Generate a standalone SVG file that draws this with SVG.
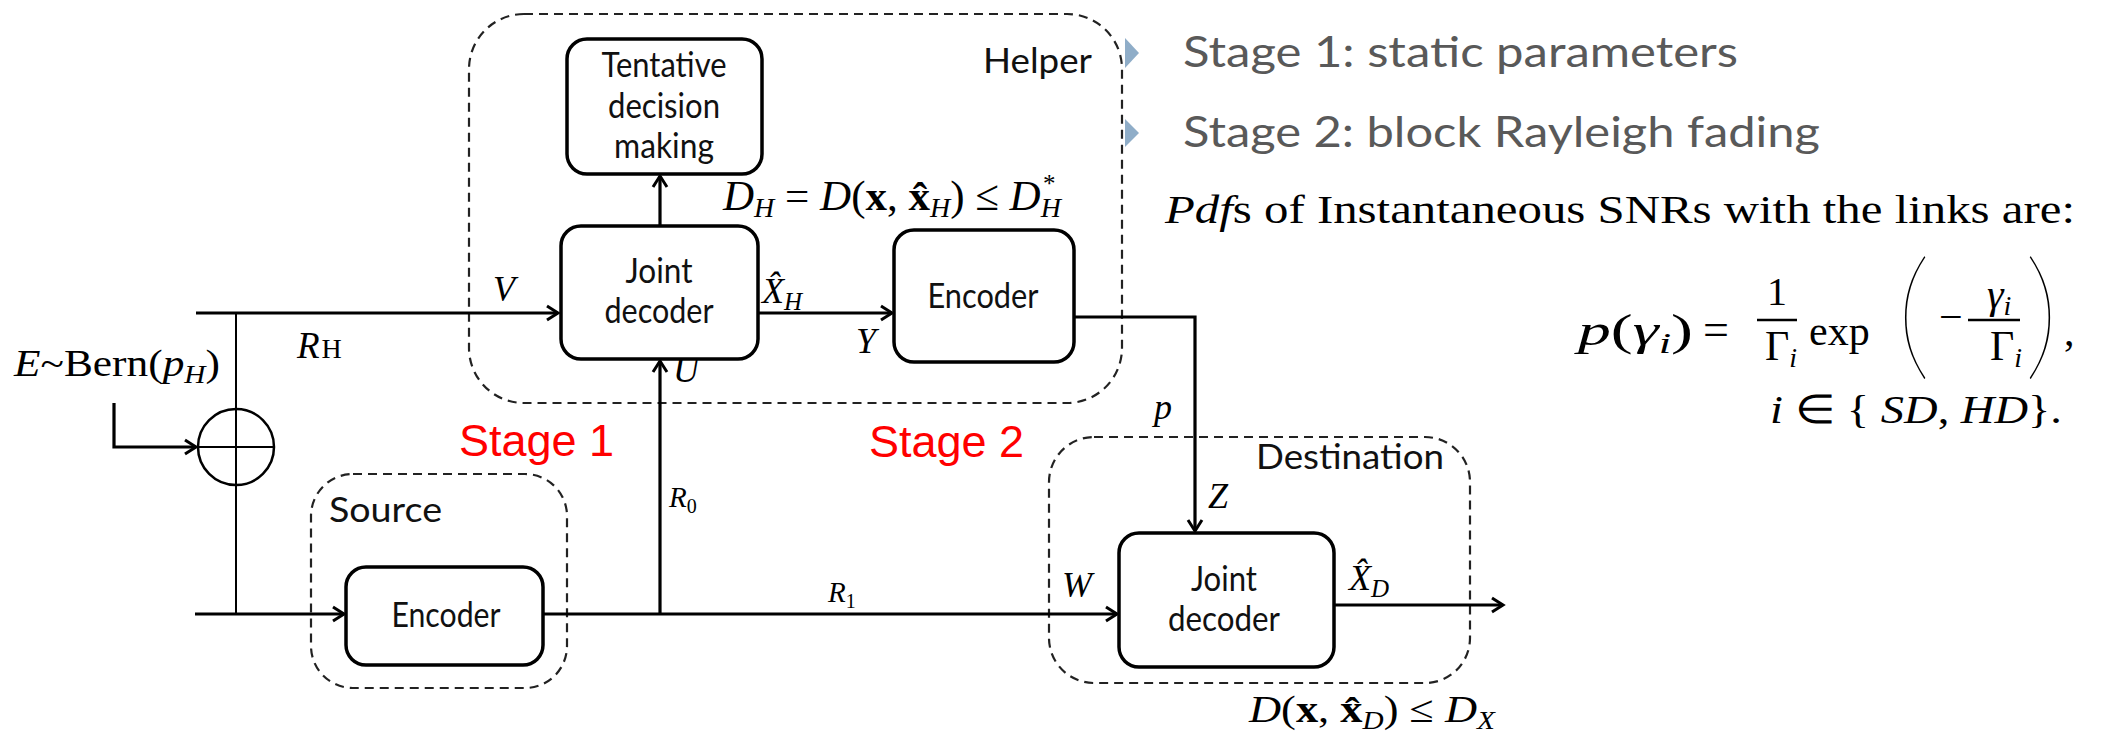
<svg xmlns="http://www.w3.org/2000/svg" width="2101" height="732" viewBox="0 0 2101 732">
<defs>
<marker id="arr" markerUnits="userSpaceOnUse" markerWidth="20" markerHeight="20" refX="14" refY="9" orient="auto">
<path d="M3,2 L14,9 L3,16" fill="none" stroke="#000" stroke-width="3"/>
</marker>
<style>
.box{fill:#fff;stroke:#000;stroke-width:3.5}
.grp{fill:none;stroke:#222;stroke-width:2.2;stroke-dasharray:9 6}
.ln{fill:none;stroke:#000;stroke-width:3.2}
.thin{fill:none;stroke:#000;stroke-width:2}
.lbl{font-family:Lato,"Open Sans",sans-serif;fill:#111;text-anchor:middle}
.glbl{font-family:Lato,"Open Sans",sans-serif;fill:#111}
.m{font-family:"Liberation Serif","Times New Roman",serif;font-style:italic;fill:#000}
.u{font-style:normal}
.b{font-style:normal;font-weight:bold}
.red{font-family:"Liberation Sans",Arial,sans-serif;font-size:45px;fill:#ff0000}
.gray{font-family:Lato,"Open Sans",sans-serif;fill:#595959}
.serif{font-family:"Liberation Serif","Times New Roman",serif;fill:#000}
.par{font-family:Lato,"DejaVu Sans",sans-serif;font-weight:100;fill:#000}
</style>
</defs>
<rect width="2101" height="732" fill="#fff"/>

<!-- group boxes -->
<g id="helper">
<rect class="grp" x="469" y="14" width="653" height="389" rx="55"/>
<text class="glbl" x="983" y="73" font-size="34" textLength="109" lengthAdjust="spacingAndGlyphs">Helper</text>
</g>
<g id="source">
<rect class="grp" x="311" y="474" width="256" height="214" rx="42"/>
<text class="glbl" x="329" y="522" font-size="34" textLength="113" lengthAdjust="spacingAndGlyphs">Source</text>
</g>
<g id="destination">
<rect class="grp" x="1049" y="437" width="421" height="246" rx="45"/>
<text class="glbl" x="1256" y="469" font-size="34" textLength="188" lengthAdjust="spacingAndGlyphs">Destination</text>
</g>

<!-- connectors -->
<g id="connectors">
<path class="ln" d="M196,313 H558" marker-end="url(#arr)"/>
<path class="thin" d="M236,313 V614"/>
<path class="ln" d="M114,403 V447 H196" marker-end="url(#arr)"/>
<path class="ln" d="M195,614 H344" marker-end="url(#arr)"/>
<path class="ln" d="M543,614 H1117" marker-end="url(#arr)"/>
<path class="ln" d="M660,614 V361" marker-end="url(#arr)"/>
<path class="ln" d="M660,226 V176" marker-end="url(#arr)"/>
<path class="ln" d="M758,313 H892" marker-end="url(#arr)"/>
<path class="ln" d="M1074,317 H1195 V531" marker-end="url(#arr)"/>
<path class="ln" d="M1334,605 H1503" marker-end="url(#arr)"/>
</g>

<g id="xor">
<circle cx="236" cy="447" r="38" fill="none" stroke="#000" stroke-width="2.5"/>
<path class="thin" d="M198,447 H274"/>
</g>

<g id="tentative">
<rect class="box" x="567" y="39" width="195" height="135" rx="20"/>
<text class="lbl" x="664" y="77" font-size="34" textLength="125" lengthAdjust="spacingAndGlyphs">Tentative</text>
<text class="lbl" x="664" y="118" font-size="34" textLength="112" lengthAdjust="spacingAndGlyphs">decision</text>
<text class="lbl" x="664" y="158" font-size="34" textLength="100" lengthAdjust="spacingAndGlyphs">making</text>
</g>
<g id="helper-decoder">
<rect class="box" x="561" y="226" width="197" height="133" rx="20"/>
<text class="lbl" x="659" y="283" font-size="34" textLength="67" lengthAdjust="spacingAndGlyphs">Joint</text>
<text class="lbl" x="659" y="323" font-size="34" textLength="109" lengthAdjust="spacingAndGlyphs">decoder</text>
</g>
<g id="helper-encoder">
<rect class="box" x="894" y="230" width="180" height="132" rx="20"/>
<text class="lbl" x="983" y="308" font-size="34" textLength="111" lengthAdjust="spacingAndGlyphs">Encoder</text>
</g>
<g id="source-encoder">
<rect class="box" x="346" y="567" width="197" height="98" rx="20"/>
<text class="lbl" x="446" y="627" font-size="34" textLength="109" lengthAdjust="spacingAndGlyphs">Encoder</text>
</g>
<g id="dest-decoder">
<rect class="box" x="1119" y="533" width="215" height="134" rx="20"/>
<text class="lbl" x="1224" y="591" font-size="34" textLength="66" lengthAdjust="spacingAndGlyphs">Joint</text>
<text class="lbl" x="1224" y="631" font-size="34" textLength="112" lengthAdjust="spacingAndGlyphs">decoder</text>
</g>

<!-- labels -->
<g id="labels">
<text class="m" x="14" y="376" font-size="37" textLength="206" lengthAdjust="spacingAndGlyphs">E<tspan class="u">~Bern(</tspan>p<tspan font-size="25" dy="7">H</tspan><tspan class="u" dy="-7">)</tspan></text>
<text class="m" x="297" y="358" font-size="37">R<tspan class="u" font-size="28" dx="2">H</tspan></text>
<text class="m" x="493" y="301" font-size="36">V</text>
<text class="m" x="673" y="382" font-size="36">U</text>
<text class="m" x="762" y="303" font-size="36">X̂<tspan font-size="25" dy="7">H</tspan></text>
<text class="m" x="856" y="353" font-size="36">Y</text>
<text class="m" x="723" y="210" font-size="43">D<tspan font-size="28" dy="7">H</tspan><tspan class="u" dy="-7"> = </tspan>D<tspan class="u">(</tspan><tspan class="b">x</tspan><tspan class="u">, </tspan><tspan class="b">x̂</tspan><tspan font-size="28" dy="7">H</tspan><tspan class="u" dy="-7">) ≤ </tspan>D<tspan font-size="28" dy="7">H</tspan><tspan class="u" font-size="25" dx="-18" dy="-25">*</tspan></text>
<text class="m" x="669" y="507" font-size="29">R<tspan class="u" font-size="20" dy="6">0</tspan></text>
<text class="m" x="828" y="602" font-size="29">R<tspan class="u" font-size="20" dy="6">1</tspan></text>
<text class="m" x="1154" y="419" font-size="36">p</text>
<text class="m" x="1208" y="508" font-size="36">Z</text>
<text class="m" x="1062" y="597" font-size="36">W</text>
<text class="m" x="1349" y="590" font-size="36">X̂<tspan font-size="25" dy="7">D</tspan></text>
<text class="m" x="1249" y="722" font-size="38" textLength="246" lengthAdjust="spacingAndGlyphs">D<tspan class="u">(</tspan><tspan class="b">x</tspan><tspan class="u">, </tspan><tspan class="b">x̂</tspan><tspan font-size="25" dy="7">D</tspan><tspan class="u" dy="-7">) ≤ </tspan>D<tspan font-size="25" dy="7">X</tspan></text>
<text class="red" x="459" y="456">Stage 1</text>
<text class="red" x="869" y="457">Stage 2</text>
</g>

<!-- right side text -->
<g id="notes">
<path d="M1125,38 L1139,53 L1125,68 Z" fill="#8fadc8"/>
<path d="M1125,119 L1139,133 L1125,147 Z" fill="#8fadc8"/>
<text class="gray" x="1183" y="67" font-size="42" textLength="555" lengthAdjust="spacingAndGlyphs">Stage 1: static parameters</text>
<text class="gray" x="1183" y="147" font-size="42" textLength="637" lengthAdjust="spacingAndGlyphs">Stage 2: block Rayleigh fading</text>
<text class="serif" x="1165" y="223" font-size="41" textLength="910" lengthAdjust="spacingAndGlyphs"><tspan font-style="italic">Pdf</tspan>s of Instantaneous SNRs with the links are:</text>
</g>

<g id="formula">
<text class="m" x="1578" y="345" font-size="44" textLength="115" lengthAdjust="spacingAndGlyphs">p<tspan class="u">(</tspan>γ<tspan font-size="30" dy="8">i</tspan><tspan class="u" dy="-8">)</tspan></text>
<text class="m u" x="1703" y="345" font-size="46">=</text>
<text class="m u" x="1777" y="305" font-size="40" text-anchor="middle">1</text>
<path d="M1757,320 H1797" stroke="#000" stroke-width="2.6"/>
<text class="m" x="1765" y="360" font-size="42"><tspan class="u">Γ</tspan><tspan font-size="28" dy="7">i</tspan></text>
<text class="m u" x="1809" y="345" font-size="42">exp</text>
<text class="par" x="1896" y="362" font-size="140">(</text>
<text class="m u" x="1939" y="331" font-size="42">−</text>
<text class="m" x="1987" y="308" font-size="42">γ<tspan font-size="28" dy="7">i</tspan></text>
<path d="M1968,320 H2020" stroke="#000" stroke-width="2.6"/>
<text class="m" x="1990" y="360" font-size="42"><tspan class="u">Γ</tspan><tspan font-size="28" dy="7">i</tspan></text>
<text class="par" x="2024" y="362" font-size="140">)</text>
<text class="m u" x="2064" y="345" font-size="42">,</text>
<text class="m" x="1770" y="423" font-size="40" textLength="292" lengthAdjust="spacingAndGlyphs">i<tspan class="u"> ∈ { </tspan>SD<tspan class="u">, </tspan>HD<tspan class="u">}.</tspan></text>
</g>
</svg>
